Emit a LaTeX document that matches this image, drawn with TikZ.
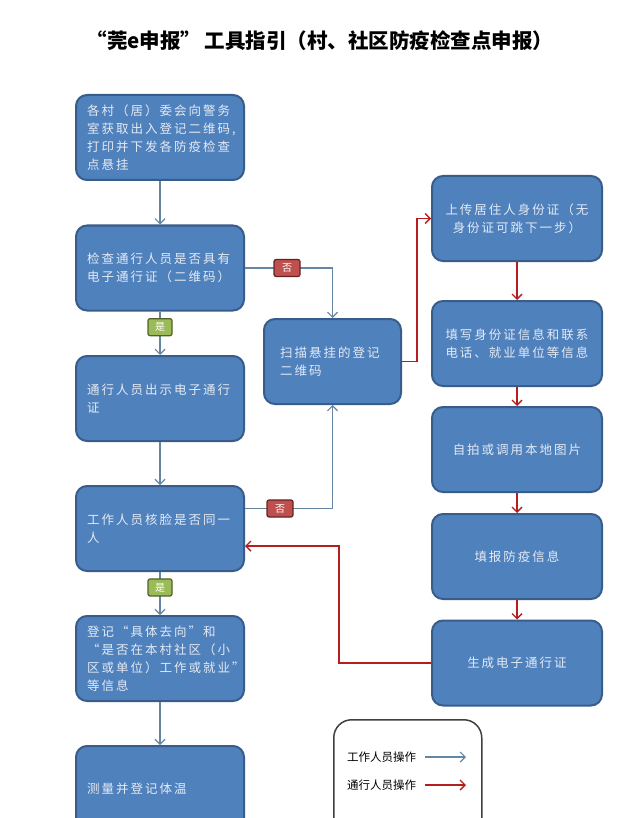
\documentclass[tikz,border=0pt]{standalone}
\usepackage{fontspec}
\setmainfont{Liberation Serif}
\newfontfamily\cjk{Noto Sans CJK SC}
\newfontfamily\cjkbox[LetterSpace=16]{Noto Sans CJK SC}
\usetikzlibrary{arrows.meta}
\definecolor{boxfill}{HTML}{4F81BD}
\definecolor{boxline}{HTML}{385D8A}
\definecolor{boxtext}{HTML}{E4EAF4}
\definecolor{bluearrow}{HTML}{6486A2}
\definecolor{redarrow}{HTML}{B41E1E}
\definecolor{yesfill}{HTML}{9BBB59}
\definecolor{yesline}{HTML}{4F6228}
\definecolor{nofill}{HTML}{C0504D}
\definecolor{noline}{HTML}{632523}
\definecolor{legline}{HTML}{404040}
\tikzset{
  box/.style={draw=boxline, fill=boxfill, line width=2pt, rounded corners=11pt,
    minimum width=168pt, minimum height=85pt, text=boxtext, inner sep=0pt,
    font=\cjkbox\fontsize{12.5}{18}\selectfont, align=left, text width=146pt},
  rbox/.style={box, minimum width=170pt, text width=150pt, align=center},
  midbox/.style={box, minimum width=137pt, text width=105pt},
  blueA/.style={draw=bluearrow, line width=1.2pt, -{Straight Barb[length=5pt,width=10pt]}},
  redA/.style={draw=redarrow, line width=1.4pt, -{Straight Barb[length=5pt,width=10pt]}},
  yes/.style={draw=yesline, fill=yesfill, line width=1.2pt, rounded corners=2pt,
    minimum width=24pt, minimum height=17pt, inner sep=0pt, text=white,
    font=\cjk\fontsize{10}{10}\selectfont},
  no/.style={yes, draw=noline, fill=nofill, minimum width=26pt},
  legtext/.style={font=\cjk\fontsize{11.5}{12}\selectfont, text=black, inner sep=0pt},
  titletext/.style={font=\cjk\bfseries\fontsize{20.5}{22}\selectfont, text=black, inner sep=0pt}
}
\begin{document}
\begin{tikzpicture}[x=1pt,y=-1pt]
\clip (0,0) rectangle (640,818);
\fill[white] (0,0) rectangle (640,818);
\node[titletext] (title) at (320,41) {“莞e申报”\,工具指引（村、社区防疫检查点申报）};
% left column
\node[box] (b1) at (160,137.5) {各村（居）委会向警务\\室获取出入登记二维码,\\打印并下发各防疫检查\\点悬挂};
\node[box] (b2) at (160,268) {检查通行人员是否具有\\电子通行证（二维码）};
\node[box] (b3) at (160,398.5) {通行人员出示电子通行\\证};
\node[box] (b4) at (160,528.5) {工作人员核脸是否同一\\人};
\node[box] (b5) at (160,658.5) {登记“具体去向”和\\“是否在本村社区（小\\区或单位）工作或就业”\\等信息};
\node[box] (b6) at (160,788.5) {测量并登记体温};
% middle
\node[midbox] (mid) at (332.5,361.5) {扫描悬挂的登记\\二维码};
% right column
\node[rbox] (r1) at (517,218.5) {上传居住人身份证（无\\身份证可跳下一步）};
\node[rbox] (r2) at (517,343.5) {填写身份证信息和联系\\电话、就业单位等信息};
\node[rbox] (r3) at (517,449.5) {自拍或调用本地图片};
\node[rbox] (r4) at (517,556.5) {填报防疫信息};
\node[rbox] (r5) at (517,663) {生成电子通行证};
% blue connectors
\draw[blueA] (b1) -- (b2);
\draw[blueA] (b2) -- node[yes, pos=0.36] {是} (b3);
\draw[blueA] (b3) -- (b4);
\draw[blueA] (b4) -- node[yes, pos=0.36] {是} (b5);
\draw[blueA] (b5) -- (b6);
\draw[blueA] (b2.east) -| node[no, pos=0.24] {否} (mid.north);
\draw[blueA] ([yshift=20pt]b4.east) -| node[no, pos=0.2] {否} (mid.south);
% red connectors
\draw[redA] (mid.east) -- ++(15,0) |- (r1.west);
\draw[redA] (r1) -- (r2);
\draw[redA] (r2) -- (r3);
\draw[redA] (r3) -- (r4);
\draw[redA] (r4) -- (r5);
\draw[redA] (r5.west) -- ++(-92,0) |- ([yshift=-17.5pt]b4.east);
% legend
\node[draw=legline, line width=1.5pt, rounded corners=18pt, minimum width=148pt,
  minimum height=130pt, anchor=north west, inner sep=0pt] (leg) at (333,719) {};
\node[legtext, anchor=west] (l1) at (347,757) {工作人员操作};
\node[legtext, anchor=west] (l2) at (347,785) {通行人员操作};
\coordinate (l1a) at (425,757); \coordinate (l1b) at (466,757);
\coordinate (l2a) at (425,785); \coordinate (l2b) at (466,785);
\draw[blueA] (l1a) -- (l1b);
\draw[redA] (l2a) -- (l2b);
\end{tikzpicture}
\end{document}
